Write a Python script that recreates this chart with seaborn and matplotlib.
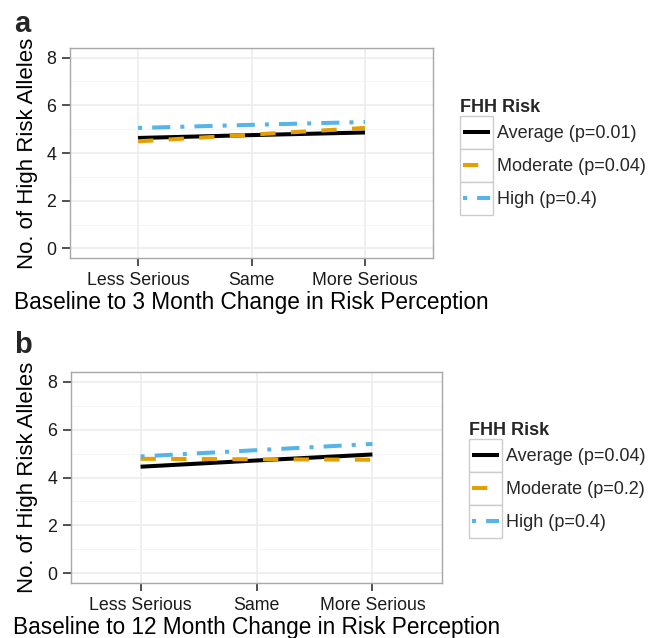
import matplotlib
matplotlib.use("Agg")
import matplotlib.pyplot as plt
import seaborn as sns
import pandas as pd
from matplotlib.lines import Line2D
from matplotlib.patches import Rectangle
from matplotlib.legend_handler import HandlerBase
from matplotlib.ticker import MultipleLocator

# categories on the x axis
categories = ["Less Serious", "Same", "More Serious"]

# panel a: baseline to 3 month
labels_3m = ["Average (p=0.01)", "Moderate (p=0.04)", "High (p=0.4)"]
average_3m = [4.63, 4.75, 4.86]
moderate_3m = [4.49, 4.77, 5.05]
high_3m = [5.05, 5.18, 5.30]

# panel b: baseline to 12 month
labels_12m = ["Average (p=0.04)", "Moderate (p=0.2)", "High (p=0.4)"]
average_12m = [4.45, 4.71, 4.96]
moderate_12m = [4.78, 4.76, 4.74]
high_12m = [4.88, 5.14, 5.40]

colours = ["#000000", "#E69F00", "#56B4E9"]
dash_patterns = ["", (3.8, 3.8), (1, 2.5, 4.5, 2.5)]
LW = 2.9

sns.set_theme(style="whitegrid")
plt.rcParams["font.family"] = ["Liberation Sans", "DejaVu Sans"]


def long_frame(labels, series):
    rows = []
    for label, values in zip(labels, series):
        for cat, v in zip(categories, values):
            rows.append({"change": cat, "alleles": v, "risk": label})
    df = pd.DataFrame(rows)
    df["change"] = pd.Categorical(df["change"], categories=categories, ordered=True)
    return df


class BoxedKey(HandlerBase):
    # ggplot-like legend key: grey bordered box with the line inside
    def create_artists(self, legend, orig_handle, xdescent, ydescent,
                       width, height, fontsize, trans):
        x0, y0 = -xdescent, -ydescent
        box = Rectangle((x0, y0), width, height, facecolor="white",
                        edgecolor="#CCCCCC", linewidth=1, transform=trans)
        ym = y0 + height / 2
        line = Line2D([x0 + 0.1 * width, x0 + 0.9 * width], [ym, ym])
        line.update_from(orig_handle)
        line.set_transform(trans)
        return [box, line]


def draw_panel(ax, labels, series, xlabel, legend_xy):
    df = long_frame(labels, series)
    sns.lineplot(data=df, x="change", y="alleles", hue="risk", style="risk",
                 hue_order=labels, style_order=labels,
                 palette=dict(zip(labels, colours)),
                 dashes=dict(zip(labels, dash_patterns)),
                 linewidth=LW, sort=False, legend=False, ax=ax,
                 solid_capstyle="butt")
    ax.set_xlim(-0.6, 2.6)
    ax.set_ylim(-0.4, 8.4)
    ax.yaxis.set_major_locator(MultipleLocator(2))
    ax.yaxis.set_minor_locator(MultipleLocator(1))
    ax.set_facecolor("white")
    ax.grid(which="major", color="#EBEBEB", linewidth=1.1)
    ax.grid(which="minor", axis="y", color="#F5F5F5", linewidth=0.7)
    ax.set_axisbelow(True)
    for s in ax.spines.values():
        s.set_color("#A8A8A8")
        s.set_linewidth(1.0)
    ax.tick_params(axis="both", which="major", bottom=True, left=True,
                   length=6, width=1.2, color="#333333", direction="out",
                   labelsize=12.8, labelcolor="#1A1A1A", pad=4)
    ax.tick_params(axis="y", which="minor", length=0)
    ax.set_xlabel(xlabel, fontsize=16.3, color="black")
    ax.set_ylabel("No. of High Risk Alleles", fontsize=16, color="black")
    ax.xaxis.label.set_va("center")
    ax.yaxis.label.set_va("center")
    ax.xaxis.set_label_coords(0.5, -0.21)
    ax.yaxis.set_label_coords(-0.118, 0.5)

    handles = []
    for c, d in zip(colours, dash_patterns):
        if d:
            handles.append(Line2D([], [], color=c, lw=LW, dashes=d))
        else:
            handles.append(Line2D([], [], color=c, lw=LW, linestyle="-",
                                  solid_capstyle="butt"))
    ax.legend(handles, labels, handler_map={Line2D: BoxedKey()},
              title="FHH Risk", loc="upper left",
              bbox_to_anchor=legend_xy, bbox_transform=ax.figure.transFigure,
              frameon=False, fontsize=13,
              title_fontproperties={"weight": "bold", "size": 13},
              handlelength=1.83, handleheight=2.43, labelspacing=0,
              handletextpad=0.22, borderpad=0, borderaxespad=0,
              alignment="left")


W, H = 658, 638
fig = plt.figure(figsize=(W / 100, H / 100), dpi=100)
fig.patch.set_facecolor("white")

ax_a = fig.add_axes([70 / W, 1 - 258 / H, (433 - 70) / W, (258 - 48) / H])
ax_b = fig.add_axes([71 / W, 1 - 583 / H, (442 - 71) / W, (583 - 372) / H])

draw_panel(ax_a, labels_3m, [average_3m, moderate_3m, high_3m],
           "Baseline to 3 Month Change in Risk Perception",
           (460 / W, 1 - 99 / H))
draw_panel(ax_b, labels_12m, [average_12m, moderate_12m, high_12m],
           "Baseline to 12 Month Change in Risk Perception",
           (469 / W, 1 - 422 / H))

fig.text(14 / W, 1 - 32 / H, "a", fontsize=21, fontweight="bold",
         va="baseline", ha="left")
fig.text(14 / W, 1 - 353 / H, "b", fontsize=21, fontweight="bold",
         va="baseline", ha="left")

fig.savefig("out.png", dpi=100)
